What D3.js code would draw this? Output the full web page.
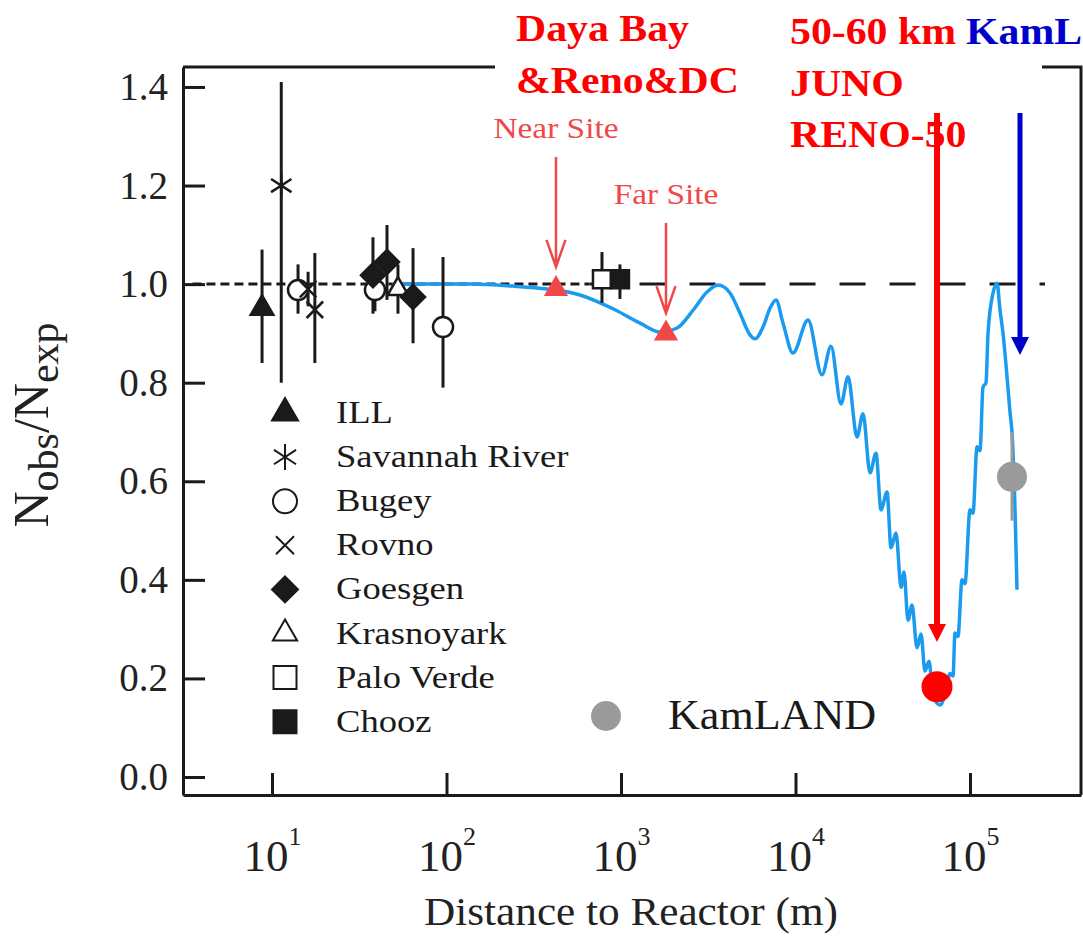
<!DOCTYPE html>
<html>
<head>
<meta charset="utf-8">
<script src="https://cdn.jsdelivr.net/npm/d3@7"></script>
<style>
	body { margin: 0; background: #fff; }
	text { font-family: "Liberation Serif", "Times New Roman", serif; }
</style>
</head>
<body>
<div id="chart"></div>
<script>

// legend, top to bottom
var expNames = ["ILL", "Savannah River", "Bugey", "Rovno", "Goesgen", "Krasnoyark", "Palo Verde", "Chooz"];
var expMarks = ["tri", "star", "circle", "cross", "diamond", "otri", "square", "fsquare"];

// reactor experiments: distance (m), Nobs/Nexp and error bar ends
var ptExp   = ["ILL", "Savannah River", "Bugey", "Rovno", "Rovno", "Bugey", "Goesgen", "Goesgen", "Krasnoyark", "Goesgen", "Bugey", "Palo Verde", "Chooz"];
var ptDist  = [8.77, 11.3, 14.1, 16.1, 17.6, 38.9, 37.9, 45.6, 52.7, 64.3, 95.5, 778, 986];
var ptRatio = [0.951, 1.20, 0.988, 0.99, 0.948, 0.988, 1.018, 1.045, 0.99, 0.974, 0.913, 1.01, 1.01];
var ptLow   = [0.84, 0.80, 0.94, 0.955, 0.84, 0.945, 0.94, 0.968, 0.94, 0.88, 0.79, 0.962, 0.97];
var ptHigh  = [1.07, 1.41, 1.04, 1.025, 1.063, 1.035, 1.095, 1.12, 1.04, 1.073, 1.055, 1.065, 1.04];

// oscillation curve
var curveDist = [48.7, 136, 240, 377, 582, 900, 1285, 1673, 2094, 2586, 3111, 3597, 4213, 4808, 5483, 5862,
	6513, 7145, 7730, 8477, 9676, 11794, 14190, 15970, 18230, 20000, 22510, 24370, 26730, 28920, 30900,
	33450, 35270, 37670, 40240, 41860, 44130, 46520, 49690, 52380, 55210, 58210, 61380, 67300, 72870,
	76800, 79940, 82000, 85310, 90000, 93560, 100000, 104000, 109700, 114100, 118700, 123500, 126800,
	135500, 142800, 148600, 154600, 163000, 169500, 174100, 181100, 185900];
var curveRatio = [1.000, 1.000, 0.996, 0.990, 0.978, 0.950, 0.921, 0.903, 0.911, 0.947, 0.984, 0.998, 0.982, 0.941, 0.897, 0.889,
	0.913, 0.951, 0.968, 0.921, 0.860, 0.927, 0.816, 0.874, 0.757, 0.812, 0.690, 0.737, 0.617, 0.657, 0.542,
	0.578, 0.465, 0.495, 0.385, 0.416, 0.318, 0.349, 0.262, 0.290, 0.215, 0.235, 0.165, 0.146, 0.175,
	0.210, 0.205, 0.292, 0.285, 0.400, 0.392, 0.542, 0.535, 0.670, 0.662, 0.791, 0.800, 0.900,
	0.982, 1.002, 0.947, 0.900, 0.812, 0.740, 0.698, 0.542, 0.380];

// Daya Bay sites
var dayaNames = ["Near Site", "Far Site"];
var dayaDist = [424, 1811];
var dayaRatio = [0.99, 0.90];
var dayaArrowFrom = [1.258, 1.124];
var dayaArrowTo = [1.035, 0.941];
var dayaLabelAt = [1.296, 1.1625];

// JUNO / KamLAND
var junoDist = 64700, junoRatio = 0.183;
var kamDist = 174000, kamRatio = 0.609, kamLow = 0.52, kamHigh = 0.70;
var bigArrowDist = [64700, 193400];
var bigArrowFrom = [1.347, 1.347];
var bigArrowTo = [0.274, 0.856];

var refRatio = 1.0;
var refDense = [3.5, 660];
var refDash = [660, 269000];

var yTicks = [0.0, 0.2, 0.4, 0.6, 0.8, 1.0, 1.2, 1.4];
var xTicks = [10, 100, 1000, 10000, 100000];
var xTickExp = ["1", "2", "3", "4", "5"];

var leftNotes = ["Daya Bay", "&Reno&DC"];
var rightNotes = ["50-60 km", "JUNO", "RENO-50"];
var kamNote = "KamL";

var W = 1083, H = 940;
var X0 = 183, X1 = 1081, Y0 = 795, Y1 = 67;
var red = "#ff0000", blue = "#0000cc", dayaRed = "#f04848", curveBlue = "#1b9bef", grey = "#9a9a9a", ink = "#1a1a1a";
var arrowColors = [red, blue];

var svg = d3.select("#chart")
	.append("svg")
	.attr("width", W)
	.attr("height", H);

var x = d3.scaleLog()
	.domain([Math.pow(10, 0.49), Math.pow(10, 5.636)])
	.range([X0, X1]);

var y = d3.scaleLinear()
	.domain([-0.0365, 1.4405])
	.range([Y0, Y1]);

function markPath(kind, r) {
	var p = d3.path();
	if (kind == "tri" || kind == "otri") {
		p.moveTo(0, -r);
		p.lineTo(r * 0.866, r * 0.5);
		p.lineTo(-r * 0.866, r * 0.5);
		p.closePath();
	} else if (kind == "circle") {
		p.moveTo(r, 0);
		p.arc(0, 0, r, 0, 2 * Math.PI);
	} else if (kind == "diamond") {
		p.moveTo(0, -r); p.lineTo(r, 0); p.lineTo(0, r); p.lineTo(-r, 0); p.closePath();
	} else if (kind == "square" || kind == "fsquare") {
		p.rect(-r, -r, 2 * r, 2 * r);
	} else if (kind == "star") {
		p.moveTo(0, -r); p.lineTo(0, r);
		p.moveTo(-r * 0.85, -r * 0.55); p.lineTo(r * 0.85, r * 0.55);
		p.moveTo(-r * 0.85, r * 0.55); p.lineTo(r * 0.85, -r * 0.55);
	} else if (kind == "cross") {
		p.moveTo(-r * 0.75, -r * 0.75); p.lineTo(r * 0.75, r * 0.75);
		p.moveTo(-r * 0.75, r * 0.75); p.lineTo(r * 0.75, -r * 0.75);
	}
	return p.toString();
}

var markSize = { tri: 13, star: 12, circle: 10, cross: 11, diamond: 12, otri: 12, square: 9, fsquare: 9 };
var legendSize = { tri: 15, star: 13, circle: 12, cross: 12, diamond: 13, otri: 14, square: 11.5, fsquare: 11.5 };

function markFill(kind) {
	if (kind == "tri" || kind == "diamond" || kind == "fsquare") return ink;
	if (kind == "star" || kind == "cross") return "none";
	return "#fff";
}

function stretched(g, px, py, str, size, sx) {
	return g.append("text")
		.attr("transform", "translate(" + px + "," + py + ") scale(" + sx + ",1)")
		.attr("font-size", size)
		.text(str);
}

// axes
var yAxis = svg.append("g")
	.attr("transform", "translate(" + X0 + ",0)")
	.call(d3.axisLeft(y).tickValues(yTicks).tickSizeInner(-22).tickSizeOuter(0).tickPadding(15)
		.tickFormat(d3.format(".1f")));

var xAxis = svg.append("g")
	.attr("transform", "translate(0," + Y0 + ")")
	.call(d3.axisBottom(x).tickValues(xTicks).tickSizeInner(-22).tickSizeOuter(0).tickFormat(""));

svg.selectAll(".domain, .tick line")
	.attr("stroke", ink)
	.attr("stroke-width", 3);

yAxis.selectAll("text")
	.attr("font-size", 39)
	.attr("fill", "#222");

xAxis.selectAll(".tick").each(function(d, i) {
	var t = d3.select(this).select("text")
		.attr("fill", "#222")
		.attr("y", 76)
		.attr("dy", 0)
		.attr("text-anchor", "middle");
	t.append("tspan").attr("font-size", 45).text("10");
	t.append("tspan").attr("font-size", 26).attr("dy", -26).text(xTickExp[i]);
});

// right side and broken top of the frame
svg.append("path")
	.attr("d", "M" + X1 + "," + Y0 + "V" + Y1 + "H1042 M495," + Y1 + "H" + X0)
	.attr("fill", "none")
	.attr("stroke", ink)
	.attr("stroke-width", 3);

// axis titles
svg.append("text")
	.attr("transform", "translate(631,925) scale(1.08,1)")
	.attr("text-anchor", "middle")
	.attr("font-size", 40)
	.attr("fill", "#222")
	.text("Distance to Reactor (m)");

var yt = svg.append("text")
	.attr("transform", "translate(48,425) rotate(-90)")
	.attr("text-anchor", "middle")
	.attr("font-size", 50)
	.attr("fill", "#222");
yt.append("tspan").text("N");
yt.append("tspan").attr("font-size", 42).attr("dy", 10).text("obs");
yt.append("tspan").attr("dy", -10).text("/N");
yt.append("tspan").attr("font-size", 42).attr("dy", 10).text("exp");

// no-oscillation line
svg.append("line")
	.attr("x1", x(refDense[0])).attr("x2", x(refDense[1]))
	.attr("y1", y(refRatio)).attr("y2", y(refRatio))
	.attr("stroke", ink).attr("stroke-width", 3)
	.attr("stroke-dasharray", "9,5");

svg.append("line")
	.attr("x1", x(refDash[0])).attr("x2", x(refDash[1]))
	.attr("y1", y(refRatio)).attr("y2", y(refRatio))
	.attr("stroke", ink).attr("stroke-width", 3)
	.attr("stroke-dasharray", "26,24");

// oscillation curve
var curvePts = curveDist.map(function(d, i) { return [d, curveRatio[i]]; });
svg.append("path")
	.datum(curvePts)
	.attr("d", d3.line()
		.x(function(d) { return x(d[0]); })
		.y(function(d) { return y(d[1]); })
		.curve(d3.curveMonotoneX))
	.attr("fill", "none")
	.attr("stroke", curveBlue)
	.attr("stroke-width", 3.5)
	.attr("stroke-linejoin", "round");

// reactor data
var pts = ptDist.map(function(d, i) {
	return { dist: d, r: ptRatio[i], lo: ptLow[i], hi: ptHigh[i], kind: expMarks[expNames.indexOf(ptExp[i])] };
});

svg.selectAll(".err")
	.data(pts)
	.enter()
	.append("line")
	.attr("class", "err")
	.attr("x1", function(d) { return x(d.dist); })
	.attr("x2", function(d) { return x(d.dist); })
	.attr("y1", function(d) { return y(d.lo); })
	.attr("y2", function(d) { return y(d.hi); })
	.attr("stroke", ink)
	.attr("stroke-width", 3);

svg.selectAll(".pt")
	.data(pts)
	.enter()
	.append("path")
	.attr("class", "pt")
	.attr("transform", function(d) { return "translate(" + x(d.dist) + "," + y(d.r) + ")"; })
	.attr("d", function(d) { return markPath(d.kind, markSize[d.kind]); })
	.attr("fill", function(d) { return markFill(d.kind); })
	.attr("stroke", ink)
	.attr("stroke-width", 2.5);

// Daya Bay triangles, arrows and labels
dayaDist.forEach(function(d, i) {
	var px = x(d);
	svg.append("path")
		.attr("transform", "translate(" + px + "," + y(dayaRatio[i]) + ")")
		.attr("d", markPath("tri", 14))
		.attr("fill", dayaRed);
	var tip = y(dayaArrowTo[i]);
	svg.append("path")
		.attr("d", "M" + px + "," + y(dayaArrowFrom[i]) + "V" + tip +
			"M" + (px - 9.5) + "," + (tip - 27) + "L" + px + "," + tip + "L" + (px + 9.5) + "," + (tip - 27))
		.attr("fill", "none")
		.attr("stroke", dayaRed)
		.attr("stroke-width", 2.5);
	svg.append("text")
		.attr("transform", "translate(" + px + "," + y(dayaLabelAt[i]) + ") scale(1.15,1)")
		.attr("text-anchor", "middle")
		.attr("font-size", 29)
		.attr("fill", dayaRed)
		.text(dayaNames[i]);
});

// KamLAND point
svg.append("line")
	.attr("x1", x(kamDist)).attr("x2", x(kamDist))
	.attr("y1", y(kamLow)).attr("y2", y(kamHigh))
	.attr("stroke", grey).attr("stroke-width", 3);
svg.append("circle")
	.attr("cx", x(kamDist)).attr("cy", y(kamRatio)).attr("r", 15)
	.attr("fill", grey);

// long arrows for JUNO / KamLAND
var bigArrows = svg.append("g");
bigArrowDist.forEach(function(d, i) {
	var px = x(d), tip = y(bigArrowTo[i]);
	bigArrows.append("line")
		.attr("x1", px).attr("x2", px)
		.attr("y1", y(bigArrowFrom[i])).attr("y2", tip - 14)
		.attr("stroke", arrowColors[i])
		.attr("stroke-width", i == 0 ? 6 : 5);
	bigArrows.append("path")
		.attr("d", "M" + (px - 9) + "," + (tip - 18) + "L" + (px + 9) + "," + (tip - 18) + "L" + px + "," + tip + "Z")
		.attr("fill", arrowColors[i]);
});

svg.append("circle")
	.attr("cx", x(junoDist)).attr("cy", y(junoRatio)).attr("r", 15.5)
	.attr("fill", red);

// legend
var leg = svg.append("g");
expNames.forEach(function(n, i) {
	var base = 423 + i * 44.1;
	var k = expMarks[i];
	leg.append("path")
		.attr("transform", "translate(285," + (base - 10) + ")")
		.attr("d", markPath(k, legendSize[k]))
		.attr("fill", markFill(k))
		.attr("stroke", ink)
		.attr("stroke-width", 2);
	stretched(leg, 336, base, n, 31, 1.18).attr("fill", ink);
});

leg.append("circle")
	.attr("cx", 606).attr("cy", 716).attr("r", 15)
	.attr("fill", grey);
stretched(leg, 668, 729, "KamLAND", 42, 1.05).attr("fill", ink);

// big notes above the plot
leftNotes.forEach(function(t, i) {
	stretched(svg, 516, 41 + i * 52, t, 38, 1.1)
		.attr("font-weight", "bold")
		.attr("fill", red);
});
rightNotes.forEach(function(t, i) {
	stretched(svg, 790, 44 + i * 51.5, t, 38, 1.1)
		.attr("font-weight", "bold")
		.attr("fill", red);
});
stretched(svg, 966, 44, kamNote, 38, 1.1)
	.attr("font-weight", "bold")
	.attr("fill", blue);

// the red arrow runs over the RENO-50 text
svg.node().appendChild(bigArrows.node());

</script>
</body>
</html>
